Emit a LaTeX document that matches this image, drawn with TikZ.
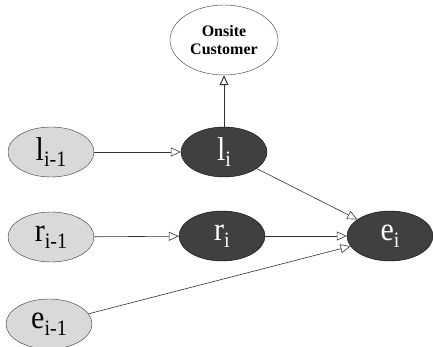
\documentclass[tikz,border=0pt]{standalone}
\usepackage{fontspec}
\setmainfont{Liberation Serif}
\usetikzlibrary{shapes.geometric,arrows.meta}
\definecolor{lightnode}{HTML}{D9D9D9}
\definecolor{darknode}{HTML}{404040}
\newcommand\varlab[2]{\scalebox{1}[1.1]{{\fontsize{30}{30}\selectfont #1}{\fontsize{20}{20}\selectfont\raisebox{-6pt}{#2}}}}
\begin{document}
\begin{tikzpicture}[x=1pt,y=-1pt,
  prev/.style={ellipse, draw=black!80, fill=lightnode, minimum width=86pt, minimum height=50pt, inner sep=0pt, text=black},
  cur/.style={ellipse, draw=black, fill=darknode, minimum width=86pt, minimum height=50pt, inner sep=0pt, text=white},
  cust/.style={ellipse, draw=black!80, fill=white, minimum width=108pt, minimum height=70pt, inner sep=0pt, font=\bfseries\fontsize{16}{18}\selectfont, align=center},
  link/.style={draw=black!80, line width=0.6pt, -{Triangle[open,length=10pt,width=9pt]}}
]
\useasboundingbox (0,0) rectangle (433,347);
\node[cust] (cust) at (224,40) {Onsite\\Customer};
\node[prev] (lp) at (51,152) {\varlab{l}{i-1}};
\node[cur] (l) at (224,152) {\varlab{l}{i}};
\node[prev] (rp) at (51,237) {\varlab{r}{i-1}};
\node[cur] (r) at (222,236) {\varlab{r}{i}};
\node[cur] (e) at (390,236) {\varlab{e}{i}};
\node[prev] (ep) at (49,324) {\varlab{e}{i-1}};
\draw[link] (lp) -- (l);
\draw[link, line width=1pt] (l) -- (cust);
\draw[link] (l) -- (e);
\draw[link] (rp) -- (r);
\draw[link] (r) -- (e);
\draw[link] (ep) -- (e);
\end{tikzpicture}
\end{document}
